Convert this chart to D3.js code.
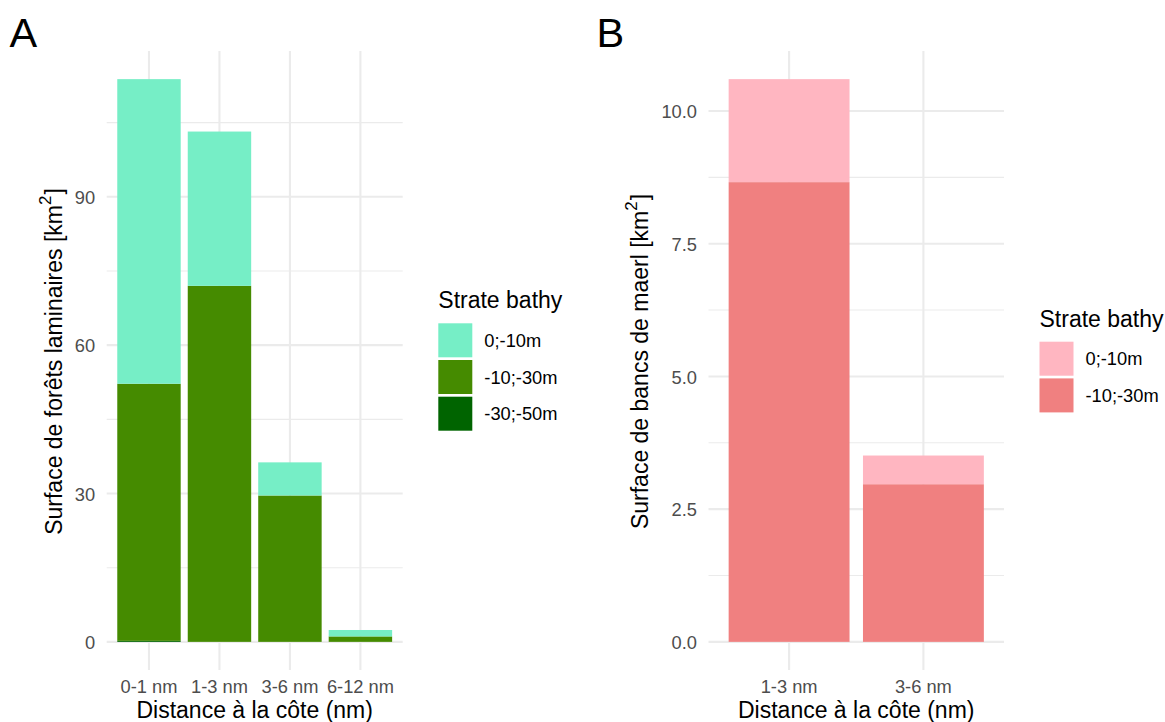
<!DOCTYPE html>
<html>
<head>
<meta charset="utf-8">
<script src="https://cdn.jsdelivr.net/npm/d3@7"></script>
<style>
  html, body { margin: 0; padding: 0; background: #fff; }
  svg { display: block; font-family: "Liberation Sans", Arial, sans-serif; }
</style>
</head>
<body>
<svg id="chart" width="1165" height="722"></svg>
<script>
// ---------- DATA ----------
const catsA = ["0-1 nm", "1-3 nm", "3-6 nm", "6-12 nm"];
const strataA = ["0;-10m", "-10;-30m", "-30;-50m"];
const laminA_0_10 = [61.6, 31.2, 6.7, 1.3];
const laminA_10_30 = [52.0, 72.0, 29.6, 1.1];
const laminA_30_50 = [0.2, 0, 0, 0];
const ticksA = [0, 30, 60, 90];
const minorA = [15, 45, 75, 105];
const colorsA = ["#76EEC6", "#458B00", "#006400"];

const catsB = ["1-3 nm", "3-6 nm"];
const strataB = ["0;-10m", "-10;-30m"];
const maerlB_0_10 = [1.94, 0.54];
const maerlB_10_30 = [8.66, 2.97];
const ticksB = [0, 2.5, 5, 7.5, 10];
const minorB = [1.25, 3.75, 6.25, 8.75];
const colorsB = ["#FFB6C1", "#F08080"];

// ---------- DRAW ----------
const svg = d3.select("#chart");
const gridCol = "#EBEBEB";
const tickCol = "#4D4D4D";

function panel(opts) {
  const { cats, strata, series, colors, ticks, minor, fmt, x0, x1, yTitle, tag, tagX, legend } = opts;
  const yTop = 51, yBot = 670;
  const rows = cats.map((c, i) => {
    const r = { cat: c };
    strata.forEach((s, k) => { r[s] = series[k][i]; });
    return r;
  });
  const keys = strata.slice().reverse();
  const stacked = d3.stack().keys(keys)(rows);
  const maxV = d3.max(rows, r => d3.sum(strata, s => r[s]));
  const x = d3.scaleBand().domain(cats).range([x0, x1]).paddingInner(0.1).paddingOuter(0.15);
  const y = d3.scaleLinear().domain([-0.05 * maxV, maxV * 1.05]).range([yBot, yTop]);
  const color = d3.scaleOrdinal().domain(strata).range(colors);

  const g = svg.append("g");
  g.selectAll(".minor").data(minor).join("line")
    .attr("x1", x0).attr("x2", x1)
    .attr("y1", d => y(d)).attr("y2", d => y(d))
    .attr("stroke", gridCol).attr("stroke-width", 1.1);
  g.selectAll(".majorY").data(ticks).join("line")
    .attr("x1", x0).attr("x2", x1)
    .attr("y1", d => y(d)).attr("y2", d => y(d))
    .attr("stroke", gridCol).attr("stroke-width", 2.1);
  g.selectAll(".majorX").data(cats).join("line")
    .attr("x1", d => x(d) + x.bandwidth() / 2).attr("x2", d => x(d) + x.bandwidth() / 2)
    .attr("y1", yTop).attr("y2", yBot)
    .attr("stroke", gridCol).attr("stroke-width", 2.1);

  stacked.forEach(layer => {
    g.append("g").attr("fill", color(layer.key))
      .selectAll("rect").data(layer).join("rect")
      .attr("x", d => x(d.data.cat))
      .attr("width", x.bandwidth())
      .attr("y", d => y(d[1]))
      .attr("height", d => Math.max(0, y(d[0]) - y(d[1])));
  });

  const yAxis = d3.axisLeft(y).tickValues(ticks).tickSize(0).tickPadding(0).tickFormat(fmt);
  const ya = g.append("g").attr("transform", `translate(${x0 - 11.5},0)`).call(yAxis);
  ya.select(".domain").remove();
  ya.selectAll("text").attr("fill", tickCol).attr("font-size", "18.3px")
    .attr("font-family", "Liberation Sans, Arial, sans-serif").attr("dy", "0.36em");

  const xAxis = d3.axisBottom(x).tickSize(0).tickPadding(0);
  const xa = g.append("g").attr("transform", `translate(0,${693})`).call(xAxis);
  xa.select(".domain").remove();
  xa.selectAll("text").attr("fill", tickCol).attr("font-size", "18.3px")
    .attr("font-family", "Liberation Sans, Arial, sans-serif").attr("dy", 0).attr("y", 0);

  g.append("text").attr("x", (x0 + x1) / 2).attr("y", 717.5)
    .attr("text-anchor", "middle").attr("font-size", "23px").attr("fill", "#000")
    .text("Distance à la côte (nm)");

  const yt = g.append("text")
    .attr("transform", `translate(${yTitle.x},${(yTop + yBot) / 2 + 1}) rotate(-90)`)
    .attr("text-anchor", "middle").attr("font-size", "23px").attr("fill", "#000");
  yt.append("tspan").text(yTitle.text + " [km");
  yt.append("tspan").attr("font-size", "17px").attr("dy", "-0.62em").text("2");
  yt.append("tspan").attr("dy", "0.46em").attr("dx", "1").text("]");

  svg.append("text").attr("x", tagX).attr("y", 46.7).attr("font-size", "41.5px")
    .attr("fill", "#000").text(tag);

  const lg = svg.append("g");
  lg.append("text").attr("x", legend.x).attr("y", legend.titleY)
    .attr("font-size", "23px").attr("fill", "#000").text("Strate bathy");
  const items = lg.selectAll(".item").data(strata).join("g")
    .attr("transform", (d, i) => `translate(${legend.x},${legend.keyY + i * 36.7})`);
  items.append("rect").attr("width", 34).attr("height", 34)
    .attr("fill", d => color(d));
  items.append("text").attr("x", 46).attr("y", 17).attr("dy", "0.36em")
    .attr("font-size", "18.3px").attr("fill", "#000").text(d => d);
}

panel({
  cats: catsA, strata: strataA, series: [laminA_0_10, laminA_10_30, laminA_30_50],
  colors: colorsA, ticks: ticksA, minor: minorA, fmt: d3.format("d"),
  x0: 106.7, x1: 402.7,
  yTitle: { x: 62, text: "Surface de forêts laminaires" },
  tag: "A", tagX: 9.5,
  legend: { x: 438.3, titleY: 308, keyY: 323.3 }
});

panel({
  cats: catsB, strata: strataB, series: [maerlB_0_10, maerlB_10_30],
  colors: colorsB, ticks: ticksB, minor: minorB, fmt: d3.format(".1f"),
  x0: 708.5, x1: 1004,
  yTitle: { x: 647.5, text: "Surface de bancs de maerl" },
  tag: "B", tagX: 596.5,
  legend: { x: 1039.5, titleY: 327, keyY: 341.7 }
});
</script>
</body>
</html>
